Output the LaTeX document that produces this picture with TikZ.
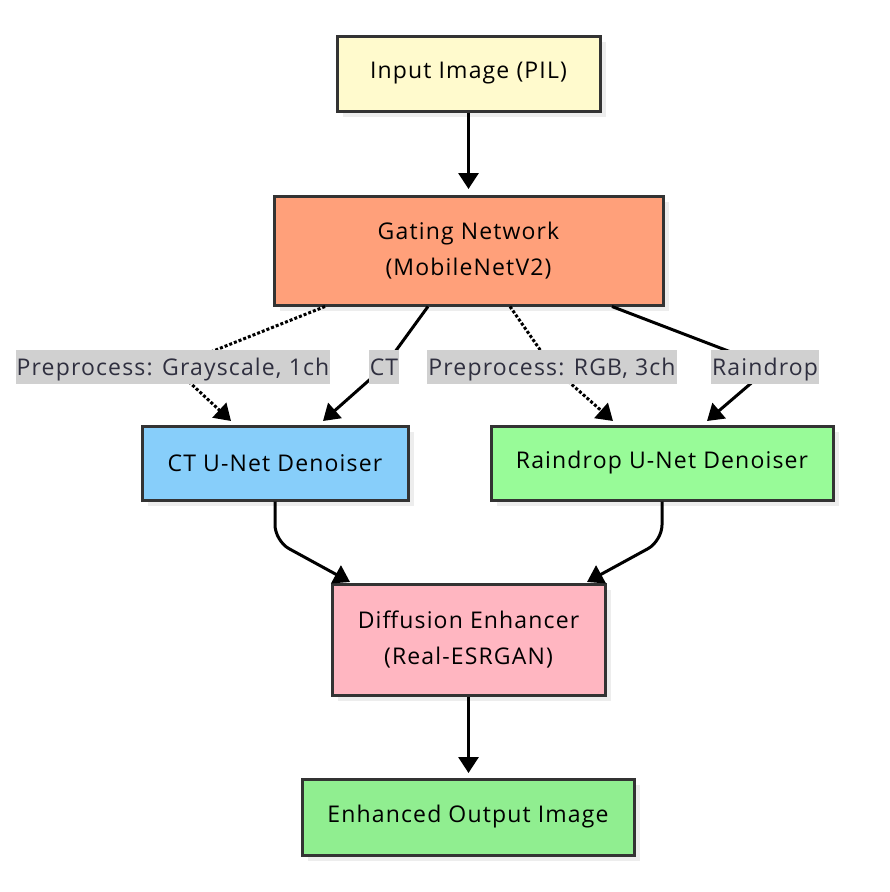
\documentclass[tikz,border=0pt]{standalone}
\usepackage{fontspec}
\setmainfont[LetterSpace=5]{Open Sans}
\usetikzlibrary{arrows.meta}
\definecolor{inyellow}{HTML}{FFFACD}
\definecolor{gatesalmon}{HTML}{FFA07A}
\definecolor{ctblue}{HTML}{87CEFA}
\definecolor{rainlime}{HTML}{98FB98}
\definecolor{diffpink}{HTML}{FFB6C1}
\definecolor{outgreen}{HTML}{90EE90}
\definecolor{edgegray}{HTML}{333333}
\definecolor{labelbg}{HTML}{D0D0D0}
\definecolor{labeltext}{HTML}{2F2F3F}
\tikzset{
	stagebox/.style={draw=edgegray, line width=3pt, inner sep=0pt, align=center,
		font=\fontsize{23}{36}\selectfont,
		preaction={fill=black!7, transform canvas={shift={(6pt,-6pt)}}}},
	flow/.style={line width=3pt, -{Triangle[width=20pt,length=16pt]}},
	preflow/.style={flow, dotted},
	edgelabel/.style={fill=labelbg, text=labeltext, inner xsep=1pt, inner ysep=7pt,
		text height=18pt, text depth=2pt, font=\fontsize{23}{24}\selectfont}
}
\begin{document}
\begin{tikzpicture}[x=1pt, y=-1pt]
			%%%%% START %%%%%
			\useasboundingbox (0,0) rectangle (890,892);
			
			\node[stagebox, fill=inyellow, minimum width=263pt, minimum height=75pt] (inp) at (468.5, 73.5) {Input Image (PIL)};
			\node[stagebox, fill=gatesalmon, minimum width=389pt, minimum height=109pt] (gate) at (468.5, 250.5) {Gating Network\\(MobileNetV2)};
			\node[stagebox, fill=ctblue, minimum width=266pt, minimum height=74pt] (ct) at (275, 463) {CT U-Net Denoiser};
			\node[stagebox, fill=rainlime, minimum width=342pt, minimum height=74pt] (rain) at (662, 463) {Raindrop U-Net Denoiser};
			\node[stagebox, fill=diffpink, minimum width=273pt, minimum height=111pt] (diff) at (468.5, 639.5) {Diffusion Enhancer\\(Real-ESRGAN)};
			\node[stagebox, fill=outgreen, minimum width=332pt, minimum height=76pt] (out) at (468, 817) {Enhanced Output Image};
			
			% gate -> experts
			\coordinate (gray) at (173, 367);
			\coordinate (ctl) at (384, 367);
			\coordinate (rgb) at (552, 367);
			\coordinate (rainl) at (770, 367);
			\draw[preflow] (gate.south -| 325, 0) -- (gray) -- (231, 421);
			\draw[flow] (gate.south -| 428, 0) -- (ctl) -- (323, 421);
			\draw[preflow] (gate.south -| 510, 0) -- (rgb) -- (613, 421);
			\draw[flow] (gate.south -| 612, 0) -- (rainl) -- (707, 421);
			
			\node[edgelabel] (graylbl) at (gray) {Preprocess: Grayscale, 1ch};
			\node[edgelabel] (ctlbl) at (ctl) {CT};
			\node[edgelabel] (rgblbl) at (rgb) {Preprocess: RGB, 3ch};
			\node[edgelabel] (rainlbl) at (765, 367) {Raindrop};
			
			% straight and merging edges
			\draw[flow] (inp) -- (468.5, 189);
			\draw[flow, rounded corners=16pt] (ct.south) -- (275, 541) -- (350, 582);
			\draw[flow, rounded corners=16pt] (rain.south) -- (662, 541) -- (587, 582);
			\draw[flow] (diff) -- (468.5, 773);
			%%%%% END %%%%%
\end{tikzpicture}
\end{document}
